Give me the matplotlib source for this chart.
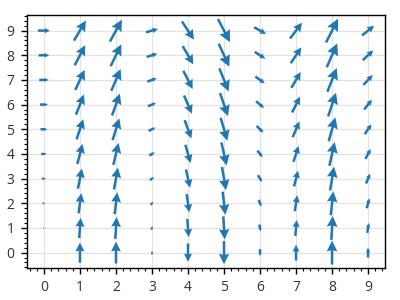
import numpy as np
import matplotlib
matplotlib.use("Agg")
import matplotlib.pyplot as plt
from matplotlib.ticker import AutoMinorLocator

# grid positions
x_vals = [0, 1, 2, 3, 4, 5, 6, 7, 8, 9]
y_vals = [0, 1, 2, 3, 4, 5, 6, 7, 8, 9]

# horizontal component per row (depends on y), vertical component per column (depends on x)
u_by_row = [0.0, 0.06, 0.11, 0.17, 0.22, 0.28, 0.33, 0.39, 0.44, 0.5]
v_by_col = [0.0, 0.84, 0.91, 0.14, -0.76, -0.96, -0.28, 0.66, 0.99, 0.41]

plt.rcParams["font.family"] = ["Open Sans", "DejaVu Sans"]

PX_PER_UNIT = 24.0   # arrow length in pixels for a vector of magnitude 1
SHAFT_PX = 2.5
HEAD_FRAC = 0.45     # head size relative to arrow length

fig = plt.figure(figsize=(4, 3), dpi=100)
ax = fig.add_axes([0.0675, 0.107, 0.895, 0.842])

ax.grid(True, color="#e3e3e3", linewidth=0.9, zorder=0)
ax.set_axisbelow(True)

ax_w_px = ax.get_position().width * fig.get_figwidth() * fig.dpi

# heads scale with the arrow length, so each arrow is its own quiver
for yi, u in zip(y_vals, u_by_row):
    for xi, v in zip(x_vals, v_by_col):
        length_px = np.hypot(u, v) * PX_PER_UNIT
        if length_px < 1:
            continue
        shaft_px = min(SHAFT_PX, 0.25 * length_px + 1.0)
        head = max(HEAD_FRAC * length_px / shaft_px, 0.8)
        ax.quiver([xi], [yi], [u], [v], pivot="middle", color="#1f77b4",
                  scale_units="dots", scale=1 / PX_PER_UNIT, width=shaft_px / ax_w_px,
                  headwidth=head, headlength=head, headaxislength=head * 0.9,
                  minlength=0.5, zorder=3)

ax.set_xlim(-0.47, 9.47)
ax.set_ylim(-0.62, 9.62)
ax.set_xticks(x_vals)
ax.set_yticks(y_vals)
ax.xaxis.set_minor_locator(AutoMinorLocator(5))
ax.yaxis.set_minor_locator(AutoMinorLocator(5))
ax.tick_params(which="major", direction="out", length=4, width=1, labelsize=10,
               labelcolor="#333333", pad=5)
ax.tick_params(which="minor", direction="out", length=2, width=0.8)
for s in ax.spines.values():
    s.set_linewidth(1)
    s.set_color("black")

fig.savefig("out.png", dpi=100)
